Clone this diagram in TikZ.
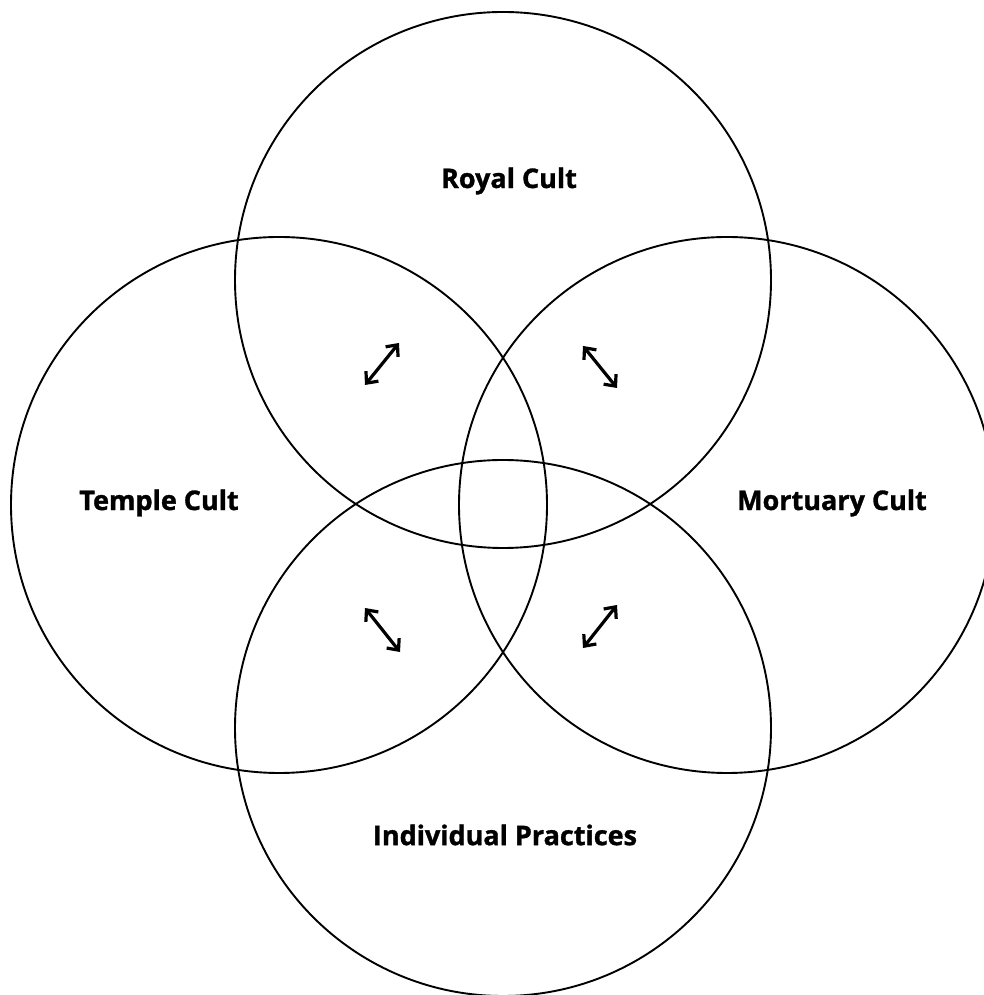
\documentclass[tikz,border=0pt]{standalone}
\usepackage{fontspec}
\setmainfont{Open Sans}[BoldFeatures={FakeBold=1.2}]
\usetikzlibrary{arrows.meta}
\begin{document}
\begin{tikzpicture}[x=1pt,y=1pt,
  ring/.style={draw=black,line width=1.9pt},
  lab/.style={font=\bfseries\fontsize{27}{29}\selectfont,inner sep=0pt},
  dbl/.style={line width=3.2pt,{Straight Barb[length=9pt,width=16pt,line width=3.2pt]}-{Straight Barb[length=9pt,width=16pt,line width=3.2pt]}}]
\useasboundingbox (0,0) rectangle (984,995);
\begin{scope}
\clip (0,0) rectangle (984,995);
\draw[ring] (503,715) circle (268);
\draw[ring] (279,490) circle (268);
\draw[ring] (727,490) circle (268);
\draw[ring] (503,267) circle (268);
\end{scope}
\node[lab] (royal) at (509,814) {Royal Cult};
\node[lab] (temple) at (159,492) {Temple Cult};
\node[lab] (mort) at (832,492) {Mortuary Cult};
\node[lab] (indiv) at (505,160) {Individual Practices};
\coordinate (a1) at (365,610); \coordinate (b1) at (399,652);
\coordinate (a2) at (583,649); \coordinate (b2) at (617,607);
\coordinate (a3) at (365,387); \coordinate (b3) at (400,343);
\coordinate (a4) at (583,347); \coordinate (b4) at (617,390);
\draw[dbl] (a1) -- (b1);
\draw[dbl] (a2) -- (b2);
\draw[dbl] (a3) -- (b3);
\draw[dbl] (a4) -- (b4);
\end{tikzpicture}
\end{document}
